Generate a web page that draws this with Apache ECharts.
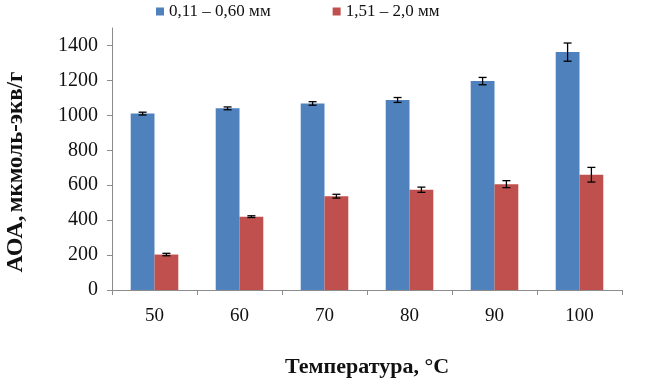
<!DOCTYPE html>
<html>
<head>
<meta charset="utf-8">
<script src="https://cdn.jsdelivr.net/npm/echarts@6/dist/echarts.min.js"></script>
<style>
  html, body { margin: 0; padding: 0; background: #fff; }
  #chart { width: 657px; height: 380px; }
</style>
</head>
<body>
<div id="chart"></div>
<script>
// данные
const temps = ["50", "60", "70", "80", "90", "100"];
const fineName = "0,11 – 0,60 мм";
const coarseName = "1,51 – 2,0 мм";
const fineVals = [1010, 1040, 1068, 1088, 1196, 1362];
const fineErr = [8, 8, 10, 14, 21, 52];
const coarseVals = [203, 420, 537, 574, 606, 660];
const coarseErr = [7, 5, 11, 15, 20, 42];
const yTicks = [0, 200, 400, 600, 800, 1000, 1200, 1400];

const BAR = 0.28; // доля ширины категории
const font = "Liberation Serif";

const chart = echarts.init(document.getElementById("chart"));

function errSeries(vals, errs, shift) {
  return {
    type: "custom",
    silent: true,
    z: 10,
    data: vals.map((v, i) => [i, v, errs[i]]),
    renderItem(params, api) {
      const band = api.size([1, 0])[0];
      const base = api.coord([api.value(0), api.value(1)]);
      const x = base[0] + shift * band * BAR;
      const top = api.coord([api.value(0), api.value(1) + api.value(2)])[1];
      const bot = api.coord([api.value(0), api.value(1) - api.value(2)])[1];
      const cap = 4;
      const st = { stroke: "#000", lineWidth: 1.3 };
      return {
        type: "group",
        children: [
          { type: "line", shape: { x1: x, y1: top, x2: x, y2: bot }, style: st },
          { type: "line", shape: { x1: x - cap, y1: top, x2: x + cap, y2: top }, style: st },
          { type: "line", shape: { x1: x - cap, y1: bot, x2: x + cap, y2: bot }, style: st },
        ],
      };
    },
  };
}

const option = {
  animation: false,
  color: ["#4F81BD", "#C0504D"],
  legend: {
    top: -2,
    left: 151,
    itemGap: 62,
    itemWidth: 8,
    itemHeight: 8,
    icon: "rect",
    textStyle: { fontFamily: font, fontSize: 17, color: "#111" },
    data: [fineName, coarseName],
  },
  grid: { left: 112, right: 35, top: 28, bottom: 90, outerBoundsMode: "none", containLabel: false },
  xAxis: {
    type: "category",
    data: temps,
    axisLine: { lineStyle: { color: "#8c8c8c" } },
    axisTick: { show: true, length: 5, lineStyle: { color: "#8c8c8c" } },
    axisLabel: { fontFamily: font, fontSize: 19, color: "#111", margin: 17 },
    name: "Температура, °С",
    nameLocation: "middle",
    nameGap: 66,
    nameTextStyle: { fontFamily: font, fontSize: 22, fontWeight: "bold", color: "#111" },
  },
  yAxis: {
    type: "value",
    min: 0,
    max: 1500,
    axisLine: { show: true, lineStyle: { color: "#8c8c8c" } },
    axisTick: { show: true, length: 5, customValues: yTicks, lineStyle: { color: "#8c8c8c" } },
    splitLine: { show: false },
    axisLabel: {
      fontFamily: font,
      fontSize: 20,
      color: "#111",
      margin: 14,
      customValues: yTicks,
      formatter: (v) => String(v),
    },
  },
  graphic: [
    {
      type: "text",
      x: 16,
      y: 172,
      rotation: Math.PI / 2,
      style: {
        text: "{a|АОА,} {b|мкмоль-экв/г}",
        align: "center",
        verticalAlign: "middle",
        fill: "#111",
        rich: {
          a: { fontFamily: font, fontSize: 24, fontWeight: "bold", fill: "#111" },
          b: { fontFamily: font, fontSize: 23, fontWeight: "bold", fill: "#111" },
        },
      },
    },
  ],
  series: [
    { name: fineName, type: "bar", data: fineVals, barWidth: BAR * 100 + "%", barGap: "0%" },
    { name: coarseName, type: "bar", data: coarseVals, barWidth: BAR * 100 + "%", barGap: "0%" },
    errSeries(fineVals, fineErr, -0.5),
    errSeries(coarseVals, coarseErr, 0.5),
  ],
};

chart.setOption(option);
</script>
</body>
</html>
